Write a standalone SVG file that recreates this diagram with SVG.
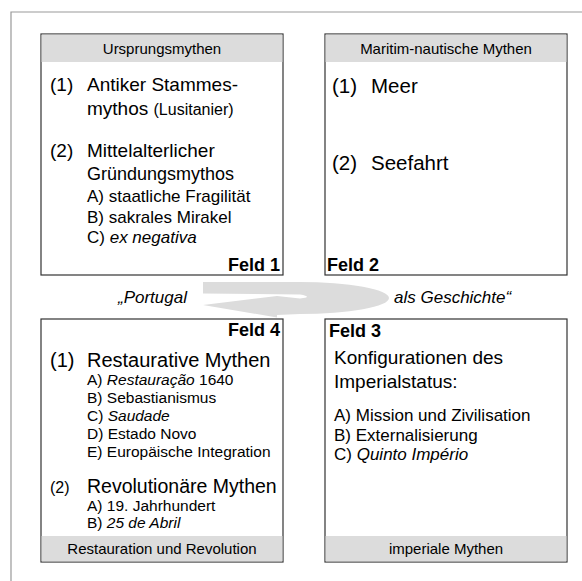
<svg xmlns="http://www.w3.org/2000/svg" width="582" height="581" viewBox="0 0 582 581">
<style>
text{font-family:"Liberation Sans",Arial,sans-serif;fill:#000}
.box{fill:#fff;stroke:#333;stroke-width:1.2}
.band{fill:#dcdcdc}
.hdr{font-size:15px;text-anchor:middle}
.big{font-size:19px}
.sub1{font-size:17px}
.sub4{font-size:15.5px}
.feld{font-size:18px;font-weight:bold}
.it{font-style:italic}
.frame{stroke:#999;stroke-width:1.2;fill:none}
</style>
<rect width="582" height="581" fill="#fff"/>
<path class="frame" d="M11,581 V12 H582"/>
<g id="connectors">
<path d="M203,282 L300,282 A89,16 0 0 1 300,314 L277,315 L277,317.5 L203,305 L277,296 L300,298.5 Q314,297 300,294.5 L203,293.5 Z" fill="#dcdcdc"/>
<text class="it" x="118" y="303" font-size="17">„Portugal</text>
<text class="it" x="394" y="303" font-size="17">als Geschichte“</text>
</g>
<g id="feld1">
<rect class="box" x="41" y="34" width="242" height="241"/>
<rect class="band" x="41.6" y="34.6" width="240.8" height="27.4"/>
<text class="hdr" x="162" y="54">Ursprungsmythen</text>
<text class="big" x="50" y="91">(1)</text>
<text class="big" x="87" y="91">Antiker Stammes-</text>
<text class="big" x="87" y="115">mythos <tspan font-size="16">(Lusitanier)</tspan></text>
<text class="big" x="50" y="157">(2)</text>
<text class="big" x="87" y="157">Mittelalterlicher</text>
<text font-size="18" x="87" y="180">Gründungsmythos</text>
<text class="sub1" x="87" y="202">A) staatliche Fragilität</text>
<text class="sub1" x="87" y="223">B) sakrales Mirakel</text>
<text class="sub1" x="87" y="243">C) <tspan class="it">ex negativa</tspan></text>
<text class="feld" x="280" y="271" text-anchor="end">Feld 1</text>
</g>
<g id="feld2">
<rect class="box" x="325" y="34" width="242" height="241"/>
<rect class="band" x="325.6" y="34.6" width="240.8" height="27.4"/>
<text class="hdr" x="446" y="54">Maritim-nautische Mythen</text>
<text font-size="20.5" x="332" y="93">(1)</text>
<text font-size="20.5" x="371" y="93">Meer</text>
<text font-size="20.5" x="332" y="170">(2)</text>
<text font-size="20.5" x="371" y="170">Seefahrt</text>
<text class="feld" x="327" y="271">Feld 2</text>
</g>
<g id="feld4">
<rect class="box" x="41" y="319" width="242" height="243"/>
<rect class="band" x="41.6" y="536" width="240.8" height="25.4"/>
<text class="feld" x="280" y="336" text-anchor="end">Feld 4</text>
<text font-size="20" x="50" y="367">(1)</text>
<text font-size="20" x="87" y="367">Restaurative Mythen</text>
<text class="sub4" x="87" y="385">A) <tspan class="it">Restauração</tspan> 1640</text>
<text class="sub4" x="87" y="403">B) Sebastianismus</text>
<text class="sub4" x="87" y="421">C) <tspan class="it">Saudade</tspan></text>
<text class="sub4" x="87" y="439">D) Estado Novo</text>
<text class="sub4" x="87" y="457">E) Europäische Integration</text>
<text font-size="16" x="50" y="493">(2)</text>
<text font-size="19.5" x="87" y="493">Revolutionäre Mythen</text>
<text class="sub4" x="87" y="511">A) 19. Jahrhundert</text>
<text class="sub4" x="87" y="528">B) <tspan class="it">25 de Abril</tspan></text>
<text class="hdr" x="162" y="554">Restauration und Revolution</text>
</g>
<g id="feld3">
<rect class="box" x="325" y="319" width="242" height="243"/>
<rect class="band" x="325.6" y="536" width="240.8" height="25.4"/>
<text class="feld" x="329" y="337">Feld 3</text>
<text class="big" x="334" y="364">Konfigurationen des</text>
<text class="big" x="334" y="388">Imperialstatus:</text>
<text class="sub1" x="334" y="421">A) Mission und Zivilisation</text>
<text class="sub1" x="334" y="441">B) Externalisierung</text>
<text class="sub1" x="334" y="460">C) <tspan class="it">Quinto Império</tspan></text>
<text class="hdr" x="446" y="554">imperiale Mythen</text>
</g>
</svg>
